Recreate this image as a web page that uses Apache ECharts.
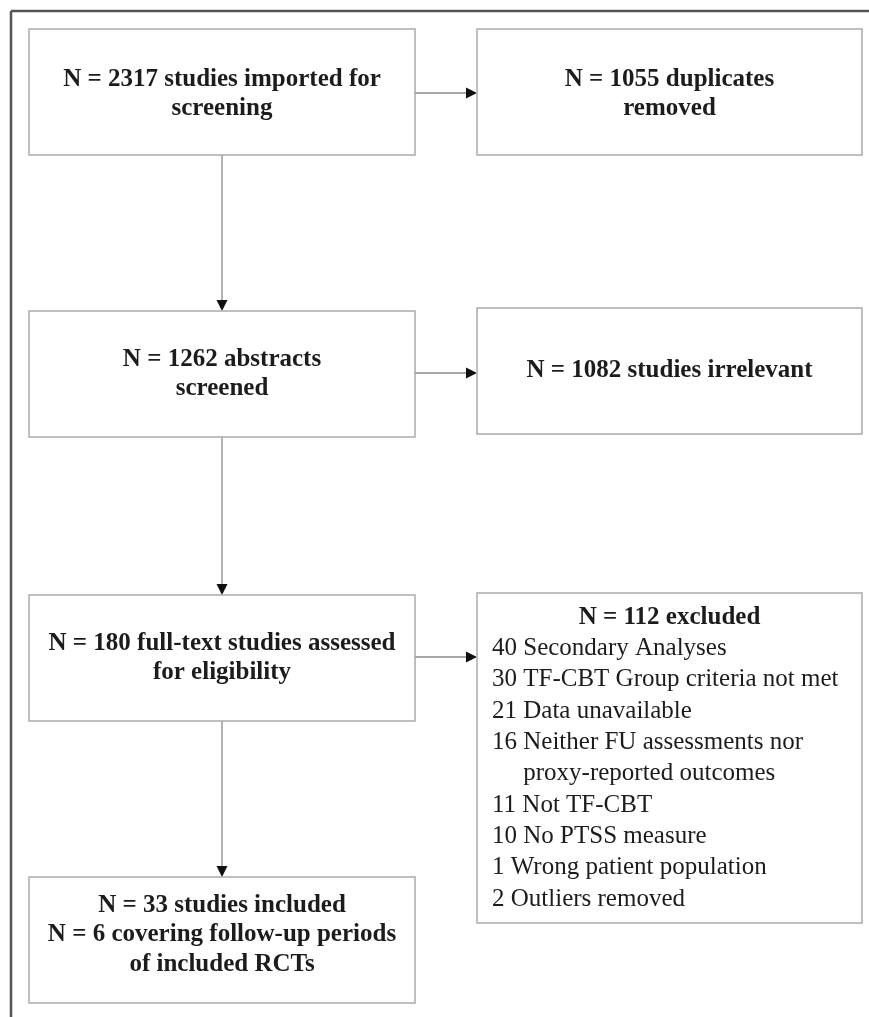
<!DOCTYPE html>
<html><head><meta charset="utf-8">
<script src="https://cdn.jsdelivr.net/npm/echarts@6/dist/echarts.min.js"></script>
<style>html,body{margin:0;padding:0;background:#fff}#c{width:869px;height:1017px}</style>
</head><body><div id="c"></div>
<script>
// ---- data ----
const mainCounts = [2317, 1262, 180, 33];
const mainTexts = ['studies imported for\nscreening', 'abstracts\nscreened', 'full-text studies assessed\nfor eligibility', 'studies included'];
const followUpCount = 6;
const followUpText = 'covering follow-up periods\nof included RCTs';
const sideCounts = [1055, 1082, 112];
const sideTexts = ['duplicates\nremoved', 'studies irrelevant', 'excluded'];
const exclusionCounts = [40, 30, 21, 16, 11, 10, 1, 2];
const exclusionReasons = ['Secondary Analyses', 'TF-CBT Group criteria not met', 'Data unavailable',
  'Neither FU assessments nor\nproxy-reported outcomes', 'Not TF-CBT', 'No PTSS measure',
  'Wrong patient population', 'Outliers removed'];

// ---- layout (chart coordinates, 0..869 x 0..1017) ----
const mainBoxes = [[29, 29, 415, 155], [29, 311, 415, 437], [29, 595, 415, 721], [29, 877, 415, 1003]];
const sideBoxes = [[477, 29, 862, 155], [477, 308, 862, 434], [477, 593, 862, 923]];
const arrowsH = [[415, 93, 477, 93], [415, 373, 477, 373], [415, 657, 477, 657]];
const arrowsV = [[222, 155, 222, 311], [222, 437, 222, 595], [222, 721, 222, 877]];
const frameLines = [[11, 11, 869, 11], [11, 11, 11, 1017]];

const FONT = '"Liberation Serif","Times New Roman",serif';
const BOLD = 'bold 25px ' + FONT;
const REG = '25px ' + FONT;
const TXT = '#1c1c1c';

function boxText(i, kind) {
  if (kind === 'main') {
    let t = 'N = ' + mainCounts[i] + ' ' + mainTexts[i];
    if (i === 3) t += '\nN = ' + followUpCount + ' ' + followUpText;
    return t;
  }
  return 'N = ' + sideCounts[i] + ' ' + sideTexts[i];
}

const measureCtx = document.createElement('canvas').getContext('2d');
function textW(s, font) { measureCtx.font = font; return measureCtx.measureText(s).width; }

function rectFrom(api) {
  const p0 = api.coord([api.value(0), api.value(1)]);
  const p1 = api.coord([api.value(2), api.value(3)]);
  return { x: p0[0], y: p0[1], w: p1[0] - p0[0], h: p1[1] - p0[1] };
}

function renderBox(kind) {
  return function (params, api) {
    const i = params.dataIndex;
    const r = rectFrom(api);
    const rect = {
      type: 'rect',
      shape: { x: r.x, y: r.y, width: r.w, height: r.h },
      style: { fill: '#fff', stroke: '#ababab', lineWidth: 1.5 }
    };
    if (kind === 'side' && i === 2) {
      const children = [rect];
      const lh = 31.33;
      children.push({
        type: 'text',
        style: { text: boxText(i, kind), x: r.x + r.w / 2, y: r.y + 25, font: BOLD, fill: TXT, align: 'center', verticalAlign: 'middle' }
      });
      let line = 1;
      const x0 = r.x + 15;
      exclusionCounts.forEach(function (c, k) {
        const parts = exclusionReasons[k].split('\n');
        const lead = c + ' ';
        const ind = textW(lead, REG);
        parts.forEach(function (p, j) {
          children.push({
            type: 'text',
            style: { text: (j === 0 ? lead : '') + p, x: j === 0 ? x0 : x0 + ind, y: r.y + 24 + line * lh, font: REG, fill: TXT, align: 'left', verticalAlign: 'middle' }
          });
          line++;
        });
      });
      return { type: 'group', children: children };
    }
    let offY = 0;
    if (kind === 'main' && i === 3) offY = -5;
    if (i === 0) offY = 2;
    return {
      type: 'group',
      children: [rect, {
        type: 'text',
        style: { text: boxText(i, kind), x: r.x + r.w / 2, y: r.y + r.h / 2 + offY, font: BOLD, lineHeight: 29.5, fill: TXT, align: 'center', verticalAlign: 'middle' }
      }]
    };
  };
}

function renderArrow(params, api) {
  const a = api.coord([api.value(0), api.value(1)]);
  const b = api.coord([api.value(2), api.value(3)]);
  const dx = b[0] - a[0], dy = b[1] - a[1];
  const len = Math.sqrt(dx * dx + dy * dy);
  const ux = dx / len, uy = dy / len;
  const L = 11, W = 5.5;
  const bx = b[0] - ux * L, by = b[1] - uy * L;
  return {
    type: 'group',
    children: [
      { type: 'line', shape: { x1: a[0], y1: a[1], x2: bx, y2: by }, style: { stroke: '#8a8a8a', lineWidth: 1.3 } },
      { type: 'polygon', shape: { points: [[b[0], b[1]], [bx - uy * W, by + ux * W], [bx + uy * W, by - ux * W]] }, style: { fill: '#111' } }
    ]
  };
}

function renderFrame(params, api) {
  const a = api.coord([api.value(0), api.value(1)]);
  const b = api.coord([api.value(2), api.value(3)]);
  return { type: 'line', shape: { x1: a[0], y1: a[1], x2: b[0], y2: b[1] }, style: { stroke: '#555', lineWidth: 2.5 } };
}

const chart = echarts.init(document.getElementById('c'), null, { renderer: 'canvas' });
chart.setOption({
  animation: false,
  backgroundColor: '#fff',
  grid: { left: 0, right: 0, top: 0, bottom: 0 },
  xAxis: { type: 'value', min: 0, max: 869, show: false },
  yAxis: { type: 'value', min: 0, max: 1017, inverse: true, show: false },
  series: [
    { type: 'custom', renderItem: renderFrame, data: frameLines, silent: true, clip: false },
    { type: 'custom', renderItem: renderArrow, data: arrowsH.concat(arrowsV), silent: true },
    { type: 'custom', renderItem: renderBox('main'), data: mainBoxes, silent: true },
    { type: 'custom', renderItem: renderBox('side'), data: sideBoxes, silent: true }
  ]
});
</script></body></html>
